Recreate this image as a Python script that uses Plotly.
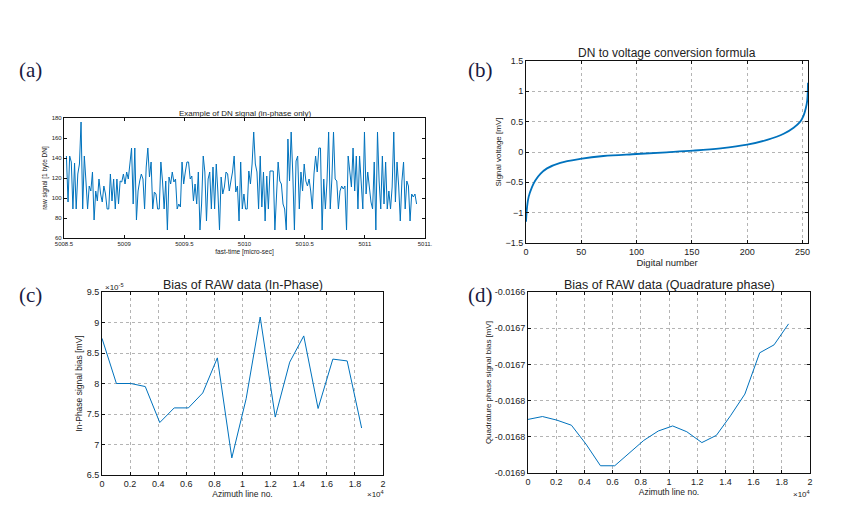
import numpy as np
import plotly.graph_objects as go

# ---------------- data ----------------
# (a) raw DN signal, in-phase only
T_START = 5008.52
T_END = 5011.43
DN_SIGNAL = [
    142, 96, 142, 136, 89, 135, 89, 124, 134, 176, 89, 142, 117, 89, 112, 107, 126, 78, 107, 97,
    119, 104, 96, 112, 104, 89, 89, 124, 97, 119, 89, 119, 94, 117, 116, 124, 114, 126, 119, 134,
    150, 94, 150, 78, 107, 117, 124, 119, 89, 131, 150, 121, 136, 89, 106, 104, 89, 89, 136, 117,
    89, 117, 68, 121, 114, 126, 116, 119, 89, 94, 91, 136, 114, 126, 136,
    136, 119, 122, 97, 114, 94, 126, 68, 94, 142, 126, 77, 119, 126, 89, 131, 89, 134, 106, 68,
    121, 104, 111, 126, 124, 107, 117, 126, 142, 106, 112, 77, 136, 89, 104, 89, 89, 127, 114, 134,
    166, 134, 126, 89, 142, 91, 126, 77, 122, 89, 127, 127, 127, 68, 104, 136, 117, 114, 94, 89,
    68, 159, 117, 166, 124, 68, 137, 142, 89, 126, 107, 134, 117, 112, 119,
    107, 89, 124, 142, 126, 150, 150, 68, 119, 89, 117, 166, 89, 119, 166, 119, 117, 89, 107, 112,
    109, 112, 68, 142, 126, 111, 150, 107, 142, 89, 142, 117, 89, 166, 104, 126, 112, 96, 89, 136,
    68, 166, 117, 89, 142, 94, 136, 89, 107, 89, 111, 166, 96, 136, 112, 77, 117, 136, 89, 117,
    112, 77, 104, 101, 104, 94,
]

# (b) DN to voltage conversion
DN_NUMBER = [0, 1, 2.4, 5.4, 8.4, 13, 19, 31, 49, 70, 100, 127, 151, 176, 200, 218, 233, 242, 248, 251, 253, 254.3, 255]
VOLTAGE = [-1.15, -0.9, -0.74, -0.58, -0.47, -0.36, -0.27, -0.18, -0.115, -0.066, -0.033, -0.005, 0.022, 0.06, 0.12,
           0.2, 0.3, 0.4, 0.5, 0.6, 0.72, 0.85, 1.14]

# (c), (d) bias vs azimuth line
AZ_LINE = [0, 1025, 2050, 3080, 4110, 5140, 6150, 7170, 8210, 9240, 10260, 11260, 12330, 13360, 14360, 15380,
           16430, 17450, 18480]
BIAS_I_E5 = [8.74, 8.0, 8.0, 7.95, 7.36, 7.6, 7.6, 7.845, 8.42, 6.78, 7.75, 9.09, 7.45, 8.35, 8.78, 7.59, 8.40,
             8.37, 7.27]
BIAS_Q = [-0.016826, -0.016822, -0.016827, -0.016834, -0.016860, -0.016890, -0.016890, -0.016873, -0.016855,
          -0.016842, -0.016835, -0.016843, -0.016858, -0.016848, -0.016821, -0.016791, -0.016734, -0.016723,
          -0.016694]

A_XTICKS = [5008.5, 5009, 5009.5, 5010, 5010.5, 5011, 5011.5]
A_XTEXT = ["5008.5", "5009", "5009.5", "5010", "5010.5", "5011", "5011."]
I_TICKVALS = [6.5, 7, 7.5, 8, 8.5, 9, 9.5]
I_TICKTEXT = ["6.5", "7", "7.5", "8", "8.5", "9", "9.5"]
Q_TICKVALS = [-0.0169, -0.01685, -0.0168, -0.01675, -0.0167, -0.01665]
Q_TICKTEXT = ["-0.0169", "-0.0168", "-0.0168", "-0.0167", "-0.0167", "-0.0166"]
AZ_TICKVALS = [0, 2000, 4000, 6000, 8000, 10000, 12000, 14000, 16000, 18000, 20000]
AZ_TICKTEXT = ["0", "0.2", "0.4", "0.6", "0.8", "1", "1.2", "1.4", "1.6", "1.8", "2"]

# ---------------- figure ----------------
W, H = 846, 512
BLUE = "#0072BD"
SANS = "Liberation Sans, Arial, sans-serif"
SERIF = "Liberation Serif, Times New Roman, serif"


def dx(p):
    return p / W


def dy(p):
    return 1 - p / H


t = np.linspace(T_START, T_END, len(DN_SIGNAL))

fig = go.Figure()
fig.add_trace(go.Scatter(x=t, y=DN_SIGNAL, mode="lines", line=dict(color=BLUE, width=1), xaxis="x", yaxis="y"))
fig.add_trace(go.Scatter(x=DN_NUMBER, y=VOLTAGE, mode="lines", line=dict(color=BLUE, width=1.8, shape="spline"),
                         xaxis="x2", yaxis="y2"))
fig.add_trace(go.Scatter(x=AZ_LINE, y=BIAS_I_E5, mode="lines", line=dict(color=BLUE, width=1), xaxis="x3", yaxis="y3"))
fig.add_trace(go.Scatter(x=AZ_LINE, y=BIAS_Q, mode="lines", line=dict(color=BLUE, width=1), xaxis="x4", yaxis="y4"))

common = dict(showline=True, linecolor="#111", linewidth=1, mirror="allticks", ticks="inside", ticklen=3,
              tickcolor="#111", zeroline=False, automargin=False,
              tickfont=dict(family=SANS, size=9, color="#222"))
grid = dict(showgrid=True, gridcolor="#b4b4b4", griddash="dot", gridwidth=1)
small = {**common, "linewidth": 1.3, "tickfont": dict(family=SANS, size=6, color="#222")}

layout = dict(
    width=W, height=H, margin=dict(l=0, r=0, t=0, b=0, autoexpand=False), showlegend=False,
    paper_bgcolor="white", plot_bgcolor="white",
    font=dict(family=SANS, color="#222"),
    xaxis=dict(domain=[dx(64), dx(425)], range=[5008.5, 5011.5], tickvals=A_XTICKS, ticktext=A_XTEXT,
               anchor="y", showgrid=False, **small,
               title=dict(text="fast-time [micro-sec]", font=dict(size=6.5, family=SANS), standoff=3)),
    yaxis=dict(domain=[dy(238), dy(118)], range=[60, 180], dtick=20, anchor="x", showgrid=False, **small,
               title=dict(text="raw signal [1 byte DN]", font=dict(size=6.5, family=SANS), standoff=3)),
    xaxis2=dict(domain=[dx(526), dx(808)], range=[0, 255], dtick=50, anchor="y2", **common, **grid,
                title=dict(text="Digital number", font=dict(size=9.5, family=SANS), standoff=1)),
    yaxis2=dict(domain=[dy(243), dy(61)], range=[-1.5, 1.5], dtick=0.5, anchor="x2", **common, **grid,
                title=dict(text="Signal voltage [mV]", font=dict(size=8, family=SANS), standoff=2)),
    xaxis3=dict(domain=[dx(102), dx(383)], range=[0, 20000], tickvals=AZ_TICKVALS, ticktext=AZ_TICKTEXT,
                anchor="y3", **common, **grid,
                title=dict(text="Azimuth line no.", font=dict(size=8.5, family=SANS), standoff=2)),
    yaxis3=dict(domain=[dy(475), dy(292)], range=[6.5, 9.5], tickvals=I_TICKVALS, ticktext=I_TICKTEXT,
                anchor="x3", **common, **grid,
                title=dict(text="In-Phase signal bias [mV]", font=dict(size=8.5, family=SANS), standoff=2)),
    xaxis4=dict(domain=[dx(528), dx(810)], range=[0, 20000], tickvals=AZ_TICKVALS, ticktext=AZ_TICKTEXT,
                anchor="y4", **common, **grid,
                title=dict(text="Azimuth line no.", font=dict(size=8.5, family=SANS), standoff=2)),
    yaxis4=dict(domain=[dy(473), dy(292)], range=[-0.0169, -0.01665], tickvals=Q_TICKVALS, ticktext=Q_TICKTEXT,
                anchor="x4", **common, **grid,
                title=dict(text="Quadrature phase signal bias [mV]", font=dict(size=8, family=SANS), standoff=1)),
)
fig.update_layout(**layout)

ann = []


def text(x, y, s, size, family=SANS, xanchor="center", yanchor="middle", color="#222"):
    ann.append(dict(x=dx(x), y=dy(y), xref="paper", yref="paper", text=s, showarrow=False,
                    font=dict(size=size, family=family, color=color), xanchor=xanchor, yanchor=yanchor))


# panel letters
text(31, 70, "(a)", 21, SERIF, color="#1a1a40")
text(480, 70, "(b)", 21, SERIF, color="#1a1a40")
text(31, 295, "(c)", 21, SERIF, color="#1a1a40")
text(480, 295, "(d)", 21, SERIF, color="#1a1a40")
# titles
text(245, 113, "Example of DN signal (in-phase only)", 8)
text(667, 53, "DN to voltage conversion formula", 12)
text(243, 285, "Bias of RAW data (In-Phase)", 12.5)
text(669, 285, "Bias of RAW data (Quadrature phase)", 12.5)
# exponents
text(103, 287, "×10<sup>-5</sup>", 8, xanchor="left")
text(386, 494, "×10<sup>4</sup>", 8, xanchor="right")
text(812, 494, "×10<sup>4</sup>", 8, xanchor="right")

fig.update_layout(annotations=ann)
fig.write_html("out.html", config={"displayModeBar": False},
               post_script="document.body.style.margin='0';document.body.style.padding='0';")
